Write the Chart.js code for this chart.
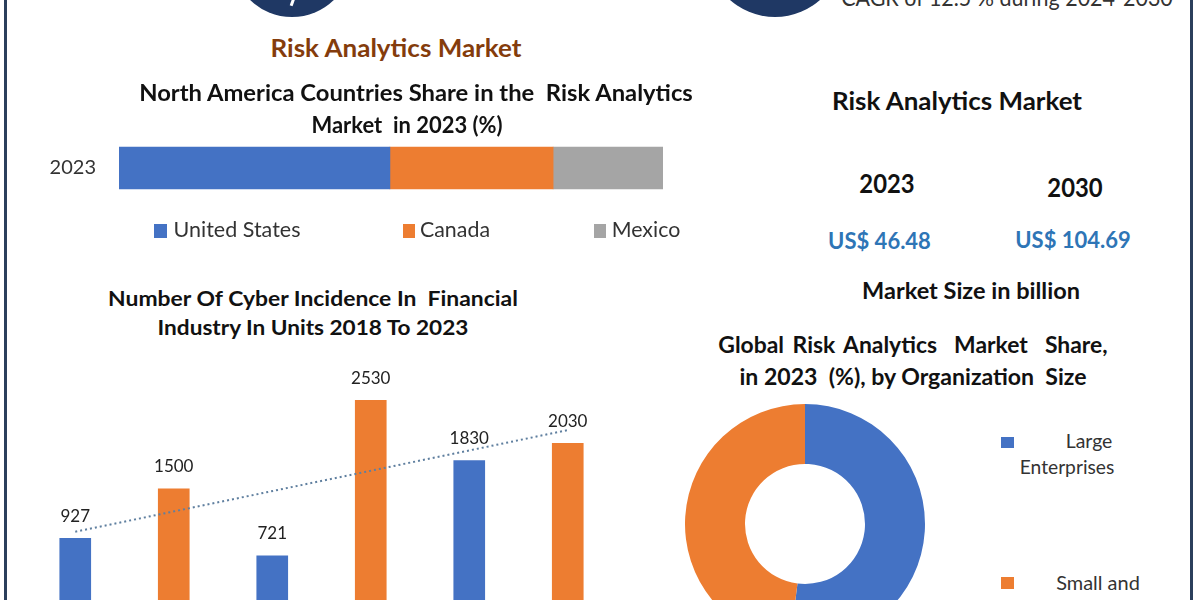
<!DOCTYPE html>
<html>
<head>
<meta charset="utf-8">
<script src="https://cdn.jsdelivr.net/npm/chart.js@4"></script>
<style>
html,body{margin:0;padding:0;width:1200px;height:600px;overflow:hidden;background:#fff;font-family:Lato,sans-serif}
canvas{position:absolute}
.frame{position:absolute;top:0;bottom:0;width:3px;background:#2b3f5c}
.disc{position:absolute;border-radius:50%;background:#1f3864}
.mark{position:absolute;left:291px;top:-2px;width:3px;height:8px;background:#fff;transform:rotate(20deg)}
.t{position:absolute;white-space:pre;line-height:1;transform-origin:center}
.h{font-weight:700;color:#111}
.r{font-weight:400;color:#333}
.sw{position:absolute}
</style>
</head>
<body>
<div class="frame" style="left:4px"></div>
<div class="frame" style="left:1190px"></div>
<div class="disc" style="left:232px;top:-103px;width:120px;height:120px"></div>
<div class="mark"></div>
<div class="disc" style="left:707px;top:-119px;width:136px;height:136px"></div>
<canvas id="shareChart" style="left:40px;top:99px" width="623" height="138"></canvas>
<canvas id="cyberChart" style="left:26px;top:343px" width="591" height="275"></canvas>
<canvas id="sizeChart" style="left:685px;top:404px" width="240" height="240"></canvas>
<script>
// ---- data ----
const shareCategories = ['2023'];
const shareSeriesNames = ['United States', 'Canada', 'Mexico'];
const unitedStatesShare = [49.8];
const canadaShare = [30];
const mexicoShare = [20.2];

const cyberYears = ['2018', '2019', '2020', '2021', '2022', '2023'];
const cyberIncidents = [927, 1500, 721, 2530, 1830, 2030];
const cyberTrend = [1002, null, null, null, null, 2183];

const sizeCategories = ['Large Enterprises', 'Small and Medium Enterprises'];
const sizeShares = [52, 48];

const marketYears = ['2023', '2030'];
const marketValues = ['US$ 46.48', 'US$ 104.69'];

// ---- colours ----
const BLUE = '#4472c4', ORANGE = '#ed7d31', GRAY = '#a5a5a5';

Chart.defaults.animation = false;
Chart.defaults.responsive = false;
Chart.defaults.font.family = 'Lato';

new Chart(document.getElementById('shareChart'), {
  type: 'bar',
  data: {
    labels: shareCategories,
    datasets: [
      {label: shareSeriesNames[0], data: unitedStatesShare, backgroundColor: BLUE, barThickness: 42},
      {label: shareSeriesNames[1], data: canadaShare, backgroundColor: ORANGE, barThickness: 42},
      {label: shareSeriesNames[2], data: mexicoShare, backgroundColor: GRAY, barThickness: 42}
    ]
  },
  options: {
    indexAxis: 'y',
    layout: {padding: 0},
    plugins: {legend: {display: false}, tooltip: {enabled: false}},
    scales: {
      x: {stacked: true, min: 0, max: 100, display: false},
      y: {
        stacked: true,
        grid: {display: false, drawTicks: false},
        border: {display: false},
        ticks: {color: '#333', font: {size: 20}, padding: 23},
        afterFit(s) { s.width = 79; }
      }
    }
  }
});

const barLabels = {
  id: 'barLabels',
  afterDatasetsDraw(chart) {
    const ctx = chart.ctx, meta = chart.getDatasetMeta(0);
    ctx.save();
    ctx.font = '17px Lato';
    ctx.fillStyle = '#222';
    ctx.textAlign = 'center';
    ctx.textBaseline = 'middle';
    meta.data.forEach((bar, i) => ctx.fillText(String(cyberIncidents[i]), bar.x, bar.y - 22));
    ctx.restore();
  }
};

new Chart(document.getElementById('cyberChart'), {
  type: 'bar',
  data: {
    labels: cyberYears,
    datasets: [
      {
        type: 'bar', label: 'Incidents', data: cyberIncidents,
        backgroundColor: cyberIncidents.map((_, i) => i % 2 ? ORANGE : BLUE),
        barThickness: 31, order: 2
      },
      {
        type: 'line', label: 'Trend', data: cyberTrend, spanGaps: true,
        borderColor: '#5f7f9f', borderWidth: 2, borderDash: [2, 3],
        pointRadius: 0, fill: false, tension: 0, order: 1
      }
    ]
  },
  options: {
    layout: {padding: 0},
    plugins: {legend: {display: false}, tooltip: {enabled: false}},
    scales: {
      x: {display: false},
      y: {display: false, min: 0, max: 3195}
    }
  },
  plugins: [barLabels]
});

new Chart(document.getElementById('sizeChart'), {
  type: 'doughnut',
  data: {
    labels: sizeCategories,
    datasets: [{data: sizeShares, backgroundColor: [BLUE, ORANGE], borderWidth: 0}]
  },
  options: {
    cutout: '50%',
    layout: {padding: 0},
    plugins: {legend: {display: false}, tooltip: {enabled: false}}
  }
});

// ---- text and legends ----
function T(text, x0, x1, cy, size, cls, color, wordGap) {
  const e = document.createElement('div');
  e.className = 't ' + cls;
  e.textContent = text;
  e.style.fontSize = size + 'px';
  if (color) e.style.color = color;
  if (wordGap) e.style.wordSpacing = wordGap + 'px';
  document.body.appendChild(e);
  const k = (x1 - x0) / e.offsetWidth;
  e.style.left = ((x0 + x1) / 2) + 'px';
  e.style.top = (cy - 1) + 'px';
  e.style.transform = 'translate(-50%,-50%) scaleX(' + k.toFixed(3) + ')';
}
function S(x, y, w, h, color) {
  const e = document.createElement('div');
  e.className = 'sw';
  e.style.cssText = `left:${x}px;top:${y}px;width:${w}px;height:${h}px;background:${color}`;
  document.body.appendChild(e);
}

T('CAGR of 12.5 % during 2024-2030', 841, 1173, -2, 24, 'r');
T('Risk Analytics Market', 270, 521, 48, 25, 'h', '#843c0c');
T('North America Countries Share in the  Risk Analytics', 139, 692, 93, 23, 'h');
T('Market  in 2023 (%)', 311, 502, 125, 23, 'h');

S(154, 224, 13, 14, BLUE);
T(shareSeriesNames[0], 173, 300, 230, 22, 'r');
S(403, 224, 12, 14, ORANGE);
T(shareSeriesNames[1], 420, 490, 230, 22, 'r');
S(594, 224, 12, 14, GRAY);
T(shareSeriesNames[2], 611, 680, 230, 22, 'r');

T('Number Of Cyber Incidence In  Financial', 108, 518, 298, 21, 'h');
T('Industry In Units 2018 To 2023', 157, 468, 327, 21, 'h');

T('Risk Analytics Market', 832, 1082, 101, 25, 'h');
T(marketYears[0], 859, 914, 184, 26, 'h');
T(marketYears[1], 1047, 1102, 188, 26, 'h');
T(marketValues[0], 828, 931, 242, 22, 'h', '#2e75b6');
T(marketValues[1], 1015, 1131, 241, 22, 'h', '#2e75b6');
T('Market Size in billion', 862, 1080, 292, 22, 'h');

T('Global Risk Analytics  Market  Share,', 718, 1107, 345, 23, 'h', null, 3);
T('in 2023  (%), by Organization  Size', 739, 1086, 377, 23, 'h');

S(1001, 437, 13, 11, BLUE);
T('Large', 1065, 1112, 441, 19, 'r');
T('Enterprises', 1019, 1114, 467, 19, 'r');
S(1001, 577, 13, 12, ORANGE);
T('Small and', 1056, 1140, 583, 19, 'r');
</script>
</body>
</html>
